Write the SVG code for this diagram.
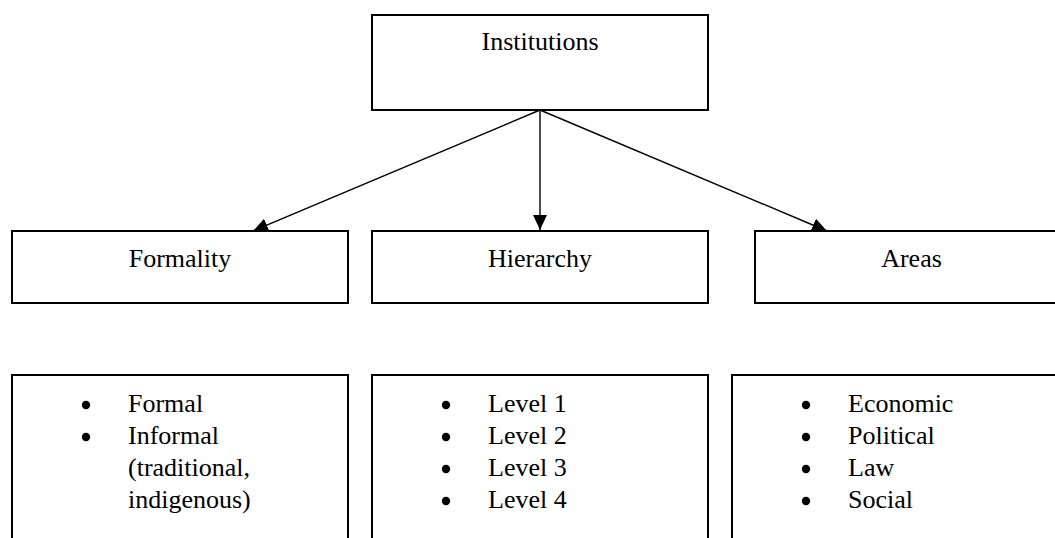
<svg xmlns="http://www.w3.org/2000/svg" width="1055" height="538" viewBox="0 0 1055 538">
<style>
.box{fill:#fff;stroke:#000;stroke-width:2}
.lbl{font-family:"Liberation Serif","Times New Roman",serif;font-size:26px;fill:#000}
.c{text-anchor:middle}
.conn{stroke:#000;stroke-width:1.4;fill:none}
.dot{fill:#000}
</style>
<defs>
<marker id="ah" markerUnits="userSpaceOnUse" markerWidth="16" markerHeight="15" refX="15" refY="7" orient="auto">
<path d="M0,0 L15,7 L0,14 Z" fill="#000"/>
</marker>
</defs>
<rect width="1055" height="538" fill="#fff"/>
<g id="connectors">
<line class="conn" x1="540" y1="110" x2="253" y2="231" marker-end="url(#ah)"/>
<line class="conn" x1="540" y1="110" x2="540" y2="230" marker-end="url(#ah)"/>
<line class="conn" x1="540" y1="110" x2="827" y2="231" marker-end="url(#ah)"/>
</g>
<g id="institutions">
<rect class="box" x="372" y="15" width="336" height="95"/>
<text class="lbl c" x="540" y="50">Institutions</text>
</g>
<g id="formality">
<rect class="box" x="12" y="231" width="336" height="72"/>
<text class="lbl c" x="180" y="267">Formality</text>
</g>
<g id="hierarchy">
<rect class="box" x="372" y="231" width="336" height="72"/>
<text class="lbl c" x="540" y="267">Hierarchy</text>
</g>
<g id="areas">
<rect class="box" x="755" y="231" width="313" height="72"/>
<text class="lbl c" x="911.5" y="267">Areas</text>
</g>
<g id="formality-list">
<rect class="box" x="12" y="375" width="336" height="190"/>
<circle class="dot" cx="86" cy="405" r="4.2"/>
<circle class="dot" cx="86" cy="437" r="4.2"/>
<text class="lbl" x="128" y="412">Formal</text>
<text class="lbl" x="128" y="444">Informal</text>
<text class="lbl" x="128" y="476">(traditional,</text>
<text class="lbl" x="128" y="508">indigenous)</text>
</g>
<g id="hierarchy-list">
<rect class="box" x="372" y="375" width="336" height="190"/>
<circle class="dot" cx="446" cy="405" r="4.2"/>
<circle class="dot" cx="446" cy="437" r="4.2"/>
<circle class="dot" cx="446" cy="469" r="4.2"/>
<circle class="dot" cx="446" cy="501" r="4.2"/>
<text class="lbl" x="488" y="412">Level 1</text>
<text class="lbl" x="488" y="444">Level 2</text>
<text class="lbl" x="488" y="476">Level 3</text>
<text class="lbl" x="488" y="508">Level 4</text>
</g>
<g id="areas-list">
<rect class="box" x="732" y="375" width="336" height="190"/>
<circle class="dot" cx="806" cy="405" r="4.2"/>
<circle class="dot" cx="806" cy="437" r="4.2"/>
<circle class="dot" cx="806" cy="469" r="4.2"/>
<circle class="dot" cx="806" cy="501" r="4.2"/>
<text class="lbl" x="848" y="412">Economic</text>
<text class="lbl" x="848" y="444">Political</text>
<text class="lbl" x="848" y="476">Law</text>
<text class="lbl" x="848" y="508">Social</text>
</g>
</svg>
